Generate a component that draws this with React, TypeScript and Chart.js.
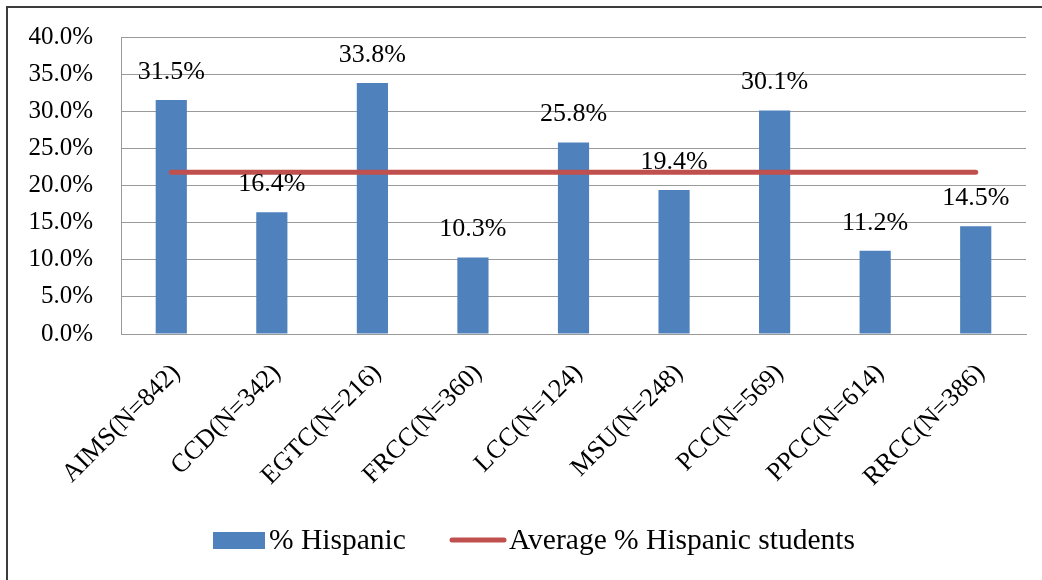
import React, { useEffect, useRef } from "react";
import { Chart, registerables } from "chart.js";

Chart.register(...registerables);

const institutions = [
  "AIMS(N=842)",
  "CCD(N=342)",
  "EGTC(N=216)",
  "FRCC(N=360)",
  "LCC(N=124)",
  "MSU(N=248)",
  "PCC(N=569)",
  "PPCC(N=614)",
  "RRCC(N=386)",
];
const hispanicPct = [31.5, 16.4, 33.8, 10.3, 25.8, 19.4, 30.1, 11.2, 14.5];
const averagePct = [21.8, 21.8, 21.8, 21.8, 21.8, 21.8, 21.8, 21.8, 21.8];
const seriesNames = ["% Hispanic", "Average % Hispanic students"];

const SERIF = "'Liberation Serif', 'Times New Roman', serif";
const BLUE = "#4F81BD";
const RED = "#C0504D";
const GRID = "#9a9a9a";

// Percent labels written above each bar
const barValueLabels = {
  id: "barValueLabels",
  afterDatasetsDraw(chart: any) {
    const meta = chart.getDatasetMeta(1);
    const ds = chart.data.datasets[1];
    const ctx = chart.ctx;
    ctx.save();
    ctx.font = `26px ${SERIF}`;
    ctx.fillStyle = "#000";
    ctx.textAlign = "center";
    ctx.textBaseline = "middle";
    meta.data.forEach((bar: any, i: number) => {
      const v = ds.data[i] as number;
      ctx.fillText(v.toFixed(1) + "%", bar.x, bar.y - 28);
    });
    ctx.restore();
  },
};

// Outer frame and legend row
const frameAndLegend = {
  id: "frameAndLegend",
  afterDraw(chart: any) {
    const ctx = chart.ctx;
    ctx.save();
    ctx.strokeStyle = "#3c3c3c";
    ctx.lineWidth = 2;
    ctx.beginPath();
    ctx.moveTo(7, chart.height);
    ctx.lineTo(7, 7);
    ctx.lineTo(chart.width, 7);
    ctx.stroke();

    const [barDs, lineDs] = [chart.data.datasets[1], chart.data.datasets[0]];
    ctx.font = `29.5px ${SERIF}`;
    ctx.textAlign = "left";
    ctx.textBaseline = "alphabetic";

    ctx.fillStyle = barDs.backgroundColor;
    ctx.fillRect(213, 532, 52, 17);
    ctx.fillStyle = "#000";
    ctx.fillText(barDs.label, 269, 549);

    ctx.strokeStyle = lineDs.borderColor;
    ctx.lineWidth = 5;
    ctx.lineCap = "round";
    ctx.beginPath();
    ctx.moveTo(452, 540);
    ctx.lineTo(504, 540);
    ctx.stroke();
    ctx.fillText(lineDs.label, 509, 549);
    ctx.restore();
  },
};

export default function App() {
  const canvasRef = useRef<HTMLCanvasElement | null>(null);

  useEffect(() => {
    document.body.style.margin = "0";
    const canvas = canvasRef.current;
    if (!canvas) return;
    const chart = new Chart(canvas, {
      type: "bar",
      data: {
        labels: institutions,
        datasets: [
          {
            type: "line",
            label: seriesNames[1],
            data: averagePct,
            borderColor: RED,
            backgroundColor: RED,
            borderWidth: 5,
            borderCapStyle: "round",
            pointRadius: 0,
            tension: 0,
            order: 0,
          } as any,
          {
            type: "bar",
            label: seriesNames[0],
            data: hispanicPct,
            backgroundColor: BLUE,
            barPercentage: 0.31,
            categoryPercentage: 1,
            order: 1,
          },
        ],
      },
      options: {
        responsive: false,
        animation: false,
        layout: { padding: { top: 37, left: 0, right: 16, bottom: 0 } },
        plugins: {
          legend: { display: false },
          tooltip: { enabled: false },
          title: { display: false },
        },
        scales: {
          x: {
            offset: true,
            grid: { display: false, drawTicks: false },
            border: { display: true, color: GRID, width: 1 },
            ticks: {
              color: "#000",
              font: { family: SERIF, size: 26 },
              minRotation: 45,
              maxRotation: 45,
              padding: 24,
              labelOffset: 5,
              autoSkip: false,
            },
            afterFit(scale: any) {
              scale.height = 246;
            },
          },
          y: {
            min: 0,
            max: 40,
            grid: {
              color: GRID,
              lineWidth: 1,
              drawTicks: true,
              tickLength: 28,
              tickColor: "rgba(0,0,0,0)",
            },
            border: { display: true, color: GRID, width: 1 },
            ticks: {
              stepSize: 5,
              color: "#000",
              padding: 0,
              font: { family: SERIF, size: 25 },
              callback: (v: any) => Number(v).toFixed(1) + "%",
            },
            afterFit(scale: any) {
              scale.width = 121;
            },
          },
        },
      },
      plugins: [barValueLabels, frameAndLegend],
    });
    return () => chart.destroy();
  }, []);

  return (
    <div style={{ position: "fixed", left: 0, top: 0, width: 1042, height: 580, background: "#fff" }}>
      <canvas ref={canvasRef} width={1042} height={580} />
    </div>
  );
}
